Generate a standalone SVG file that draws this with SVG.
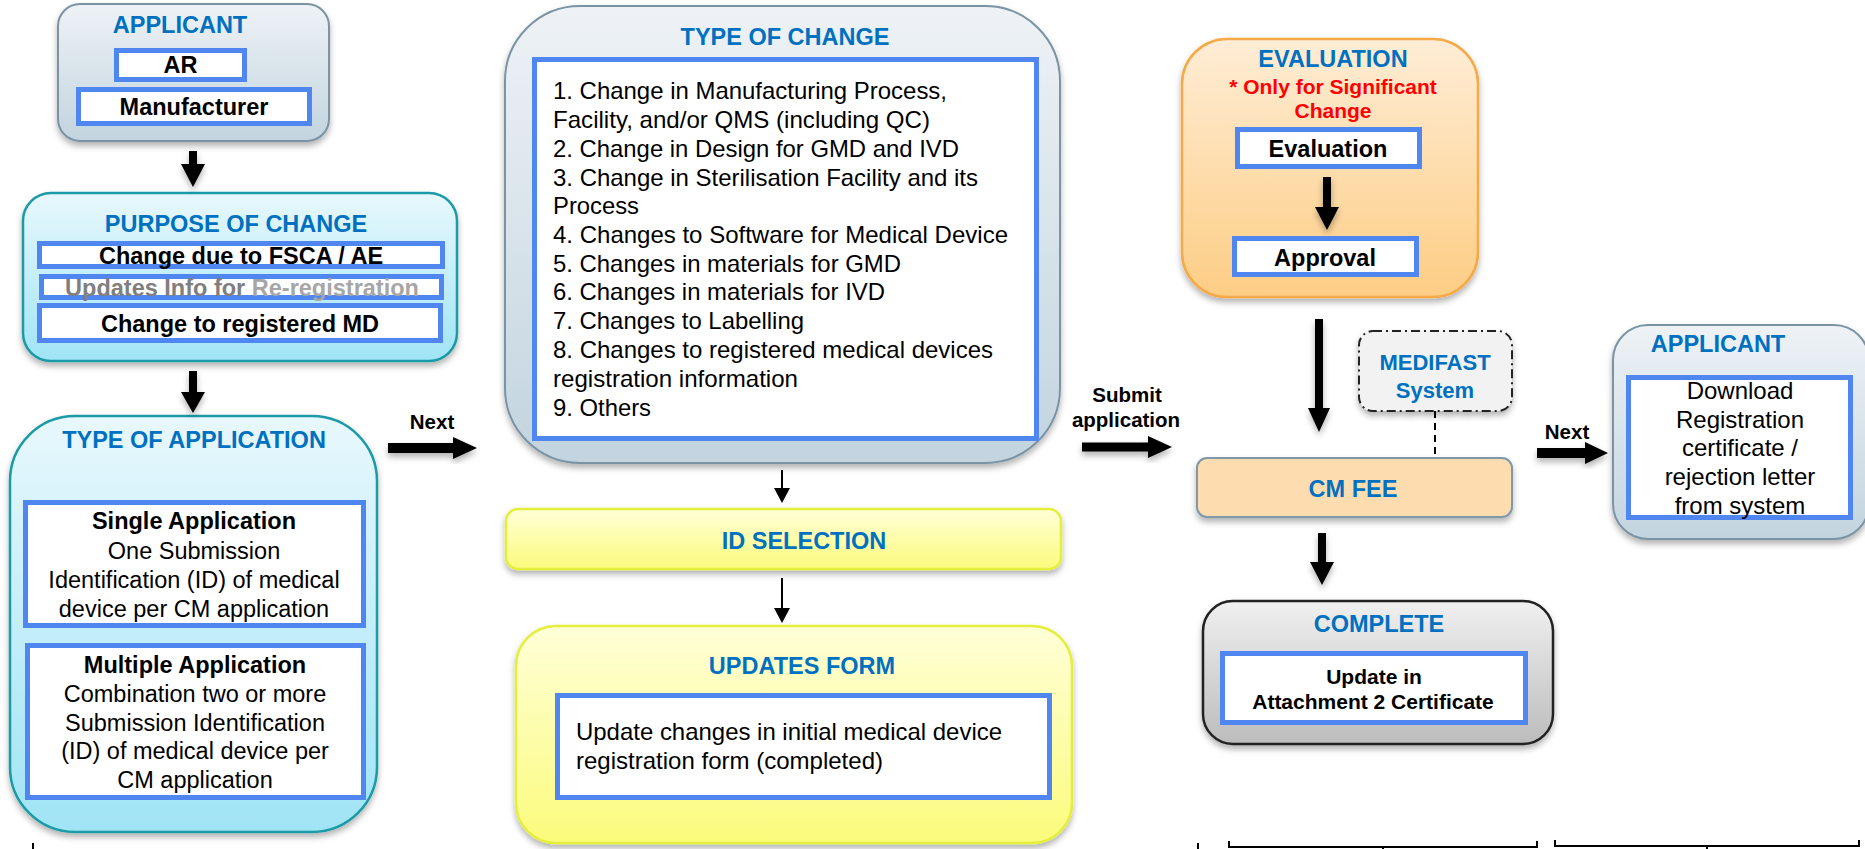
<svg xmlns="http://www.w3.org/2000/svg" width="1865" height="849" viewBox="0 0 1865 849">
  <defs>
    <linearGradient id="gSlate" x1="0" y1="0" x2="0" y2="1">
      <stop offset="0" stop-color="#eef2f6"/>
      <stop offset="1" stop-color="#c2d4df"/>
    </linearGradient>
    <linearGradient id="gCyan" x1="0" y1="0" x2="0" y2="1">
      <stop offset="0" stop-color="#e8f8fd"/>
      <stop offset="1" stop-color="#a0e4f5"/>
    </linearGradient>
    <linearGradient id="gYellow" x1="0" y1="0" x2="0" y2="1">
      <stop offset="0" stop-color="#ffffd8"/>
      <stop offset="1" stop-color="#fbfb7c"/>
    </linearGradient>
    <linearGradient id="gOrange" x1="0" y1="0" x2="0" y2="1">
      <stop offset="0" stop-color="#feedd6"/>
      <stop offset="1" stop-color="#fdcd84"/>
    </linearGradient>
    <linearGradient id="gGray" x1="0" y1="0" x2="0" y2="1">
      <stop offset="0" stop-color="#f0f0f0"/>
      <stop offset="1" stop-color="#bcbcbc"/>
    </linearGradient>
    <filter id="shadow" x="-10%" y="-10%" width="120%" height="130%">
      <feDropShadow dx="0" dy="4" stdDeviation="3" flood-color="#000" flood-opacity="0.3"/>
    </filter>
    <style>
      text { font-family: "Liberation Sans", Arial, sans-serif; }
      .title { fill: #0070c0; font-weight: bold; font-size: 23.5px; text-anchor: middle; }
      .lbl { fill: #000; font-weight: bold; font-size: 23.5px; text-anchor: middle; }
      .body { fill: #000; font-size: 23.5px; text-anchor: middle; }
      .list { fill: #000; font-size: 24px; }
      .small { fill: #000; font-weight: bold; font-size: 20.5px; text-anchor: middle; }
      .red { fill: #ff0000; font-weight: bold; font-size: 21px; text-anchor: middle; }
      .inner { fill: #fff; stroke: #4f86ef; stroke-width: 5; }
      .slate { fill: url(#gSlate); stroke: #7a94a4; stroke-width: 2; filter: url(#shadow); }
      .cyan { fill: url(#gCyan); stroke: #1a9aa6; stroke-width: 2.5; filter: url(#shadow); }
      .yellow { fill: url(#gYellow); stroke: #e4ef3a; stroke-width: 2.5; filter: url(#shadow); }
      .orange { fill: url(#gOrange); stroke: #f5a947; stroke-width: 2.5; filter: url(#shadow); }
      .block { fill: #000; filter: url(#shadow); }
      .thin { stroke: #000; stroke-width: 2; fill: none; }
      .tick { stroke: #000; stroke-width: 2; fill: none; }
    </style>
  </defs>

  <rect width="1865" height="849" fill="#fff"/>

  <!-- Applicant (start) -->
  <g id="applicant">
    <rect class="slate" x="58" y="4" width="271" height="137" rx="22"/>
    <text class="title" x="180" y="33">APPLICANT</text>
    <rect class="inner" x="116.5" y="50.5" width="128" height="29"/>
    <text class="lbl" x="180.5" y="73">AR</text>
    <rect class="inner" x="78.5" y="89.5" width="231" height="34"/>
    <text class="lbl" x="194" y="115">Manufacturer</text>
  </g>

  <!-- Purpose of change -->
  <g id="purpose">
    <rect class="cyan" x="23" y="193" width="434" height="168" rx="28"/>
    <text class="title" x="236" y="232">PURPOSE OF CHANGE</text>
    <rect class="inner" x="39.5" y="243.5" width="403" height="23"/>
    <text class="lbl" x="241" y="264">Change due to FSCA / AE</text>
    <rect class="inner" x="41.5" y="276.5" width="400" height="21"/>
    <text class="lbl" x="242" y="296"><tspan fill="#7f7f7f">Updates Info for </tspan><tspan fill="#a6a6a6">Re-registration</tspan></text>
    <rect class="inner" x="39.5" y="305.5" width="401" height="35"/>
    <text class="lbl" x="240" y="332">Change to registered MD</text>
  </g>

  <!-- Type of application -->
  <g id="application">
    <rect class="cyan" x="10" y="416" width="367" height="416" rx="65"/>
    <text class="title" x="194" y="448">TYPE OF APPLICATION</text>
    <rect class="inner" x="25.5" y="502.5" width="338" height="123"/>
    <text class="lbl" x="194" y="529">Single Application</text>
    <text class="body" x="194" y="559">One Submission</text>
    <text class="body" x="194" y="588">Identification (ID) of medical</text>
    <text class="body" x="194" y="617">device per CM application</text>
    <rect class="inner" x="27.5" y="645.5" width="336" height="152"/>
    <text class="lbl" x="195" y="673">Multiple Application</text>
    <text class="body" x="195" y="702">Combination two or more</text>
    <text class="body" x="195" y="731">Submission Identification</text>
    <text class="body" x="195" y="759">(ID) of medical device per</text>
    <text class="body" x="195" y="788">CM application</text>
  </g>

  <!-- Type of change -->
  <g id="type-of-change">
    <rect class="slate" x="505" y="6" width="555" height="457" rx="75"/>
    <text class="title" x="785" y="45">TYPE OF CHANGE</text>
    <rect class="inner" x="534.5" y="59.5" width="502" height="379"/>
    <text class="list" x="553" y="99" textLength="394" lengthAdjust="spacingAndGlyphs">1. Change in Manufacturing Process,</text>
    <text class="list" x="553" y="128" textLength="377" lengthAdjust="spacingAndGlyphs">Facility, and/or QMS (including QC)</text>
    <text class="list" x="553" y="157" textLength="406" lengthAdjust="spacingAndGlyphs">2. Change in Design for GMD and IVD</text>
    <text class="list" x="553" y="186" textLength="425" lengthAdjust="spacingAndGlyphs">3. Change in Sterilisation Facility and its</text>
    <text class="list" x="553" y="214" textLength="86" lengthAdjust="spacingAndGlyphs">Process</text>
    <text class="list" x="553" y="243" textLength="455" lengthAdjust="spacingAndGlyphs">4. Changes to Software for Medical Device</text>
    <text class="list" x="553" y="272" textLength="348" lengthAdjust="spacingAndGlyphs">5. Changes in materials for GMD</text>
    <text class="list" x="553" y="300" textLength="332" lengthAdjust="spacingAndGlyphs">6. Changes in materials for IVD</text>
    <text class="list" x="553" y="329" textLength="251" lengthAdjust="spacingAndGlyphs">7. Changes to Labelling</text>
    <text class="list" x="553" y="358" textLength="440" lengthAdjust="spacingAndGlyphs">8. Changes to registered medical devices</text>
    <text class="list" x="553" y="387" textLength="245" lengthAdjust="spacingAndGlyphs">registration information</text>
    <text class="list" x="553" y="416" textLength="98" lengthAdjust="spacingAndGlyphs">9. Others</text>
  </g>

  <!-- ID selection -->
  <g id="id-selection">
    <rect class="yellow" x="506" y="509" width="555" height="60" rx="12"/>
    <text class="title" x="804" y="549">ID SELECTION</text>
  </g>

  <!-- Updates form -->
  <g id="updates-form">
    <rect class="yellow" x="516" y="626" width="556" height="217" rx="40"/>
    <text class="title" x="802" y="674">UPDATES FORM</text>
    <rect class="inner" x="557.5" y="695.5" width="492" height="102"/>
    <text class="list" x="576" y="740" textLength="426" lengthAdjust="spacingAndGlyphs">Update changes in initial medical device</text>
    <text class="list" x="576" y="769" textLength="307" lengthAdjust="spacingAndGlyphs">registration form (completed)</text>
  </g>

  <!-- Evaluation -->
  <g id="evaluation">
    <rect class="orange" x="1182" y="39" width="296" height="258" rx="45"/>
    <text class="title" x="1333" y="67">EVALUATION</text>
    <text class="red" x="1333" y="94">* Only for Significant</text>
    <text class="red" x="1333" y="118">Change</text>
    <rect class="inner" x="1237.5" y="129.5" width="182" height="37"/>
    <text class="lbl" x="1328" y="157">Evaluation</text>
    <polygon class="block" points="1323,177 1331,177 1331,207 1339,207 1327,230 1315,207 1323,207"/>
    <rect class="inner" x="1234.5" y="238.5" width="182" height="36"/>
    <text class="lbl" x="1325" y="266">Approval</text>
  </g>

  <!-- MEDIFAST system -->
  <g id="medifast">
    <rect x="1359" y="331" width="153" height="80" rx="14" fill="#f2f2f2" stroke="#222" stroke-width="2" stroke-dasharray="9,4,2,4" filter="url(#shadow)"/>
    <text class="title" x="1435" y="370" style="font-size:22px">MEDIFAST</text>
    <text class="title" x="1435" y="398" style="font-size:22px">System</text>
  </g>

  <!-- CM fee -->
  <g id="cm-fee">
    <rect x="1197" y="458" width="315" height="59" rx="10" fill="#fddcb0" stroke="#7f98aa" stroke-width="2" filter="url(#shadow)"/>
    <text class="title" x="1353" y="497">CM FEE</text>
  </g>

  <!-- Complete -->
  <g id="complete">
    <rect x="1203" y="601" width="350" height="143" rx="30" fill="url(#gGray)" stroke="#222" stroke-width="2.5" filter="url(#shadow)"/>
    <text class="title" x="1379" y="632">COMPLETE</text>
    <rect class="inner" x="1222.5" y="653.5" width="303" height="69"/>
    <text class="lbl" x="1374" y="684" style="font-size:21px">Update in</text>
    <text class="lbl" x="1373" y="709" style="font-size:21px">Attachment 2 Certificate</text>
  </g>

  <!-- Applicant (result) -->
  <g id="applicant-result">
    <rect class="slate" x="1613" y="325" width="256" height="214" rx="35"/>
    <text class="title" x="1718" y="352">APPLICANT</text>
    <rect class="inner" x="1628.5" y="377.5" width="222" height="140"/>
    <text class="body" x="1740" y="399" style="font-size:24px">Download</text>
    <text class="body" x="1740" y="428" style="font-size:24px">Registration</text>
    <text class="body" x="1740" y="456" style="font-size:24px">certificate /</text>
    <text class="body" x="1740" y="485" style="font-size:24px">rejection letter</text>
    <text class="body" x="1740" y="514" style="font-size:24px">from system</text>
  </g>

  <!-- Connectors -->
  <g id="connectors">
    <polygon class="block" points="189,151 197,151 197,164 205,164 193,187 181,164 189,164"/>
    <polygon class="block" points="189,371 197,371 197,392 205,392 193,413 181,392 189,392"/>
    <polygon class="block" points="388,443 453,443 453,437 477,448 453,459 453,453 388,453"/>
    <text class="small" x="432" y="429">Next</text>
    <line class="thin" x1="782" y1="470" x2="782" y2="490"/>
    <polygon points="774,488 790,488 782,503" fill="#000"/>
    <line class="thin" x1="782" y1="578" x2="782" y2="610"/>
    <polygon points="774,608 790,608 782,623" fill="#000"/>
    <polygon class="block" points="1082,442.5 1148,442.5 1148,436 1172,447 1148,458 1148,451.5 1082,451.5"/>
    <text class="small" x="1127" y="402">Submit</text>
    <text class="small" x="1126" y="427">application</text>
    <polygon class="block" points="1315,319 1323,319 1323,408 1330,408 1319,432 1308,408 1315,408"/>
    <line x1="1435" y1="411" x2="1435" y2="458" stroke="#000" stroke-width="2" stroke-dasharray="7,5"/>
    <polygon class="block" points="1318,533 1326,533 1326,562 1334,562 1322,585 1310,562 1318,562"/>
    <polygon class="block" points="1537,448 1585,448 1585,442 1608,453 1585,464 1585,458 1537,458"/>
    <text class="small" x="1567" y="439">Next</text>
  </g>

  <!-- Baseline brackets along the lower edge -->
  <g id="brackets">
    <path class="tick" d="M33,843 V849"/>
    <path class="tick" d="M1198,843 V849"/>
    <path class="tick" d="M1229,841 V847 H1537 V841 M1383,847 V849"/>
    <path class="tick" d="M1555,840 V846 H1859 V840 M1707,846 V849"/>
  </g>
</svg>
